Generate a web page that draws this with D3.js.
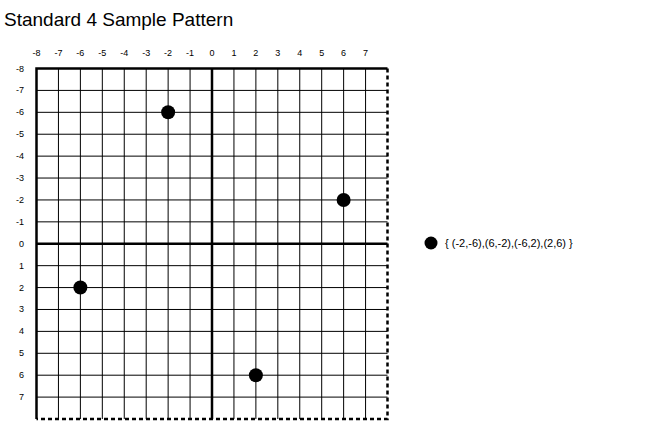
<!DOCTYPE html>
<html><head><meta charset="utf-8">
<script src="https://cdn.jsdelivr.net/npm/d3@7"></script>
<style>body{margin:0;background:#fff}text{font-family:"Liberation Sans",Arial,sans-serif}</style>
</head><body><svg id="c" width="669" height="425"></svg>
<script>
const title = "Standard 4 Sample Pattern";
const xs = [-2, 6, -6, 2];
const ys = [-6, -2, 2, 6];
const legendLabel = "{ (-2,-6),(6,-2),(-6,2),(2,6) }";
const ticks = d3.range(-8, 8);

const svg = d3.select("#c");
const x = d3.scaleLinear().domain([-8, 8]).range([36.5, 387.5]);
const y = d3.scaleLinear().domain([-8, 8]).range([68.5, 419]);

svg.append("text").attr("x", 4).attr("y", 26).attr("font-size", 19).text(title);

const g = svg.append("g");
// grid
d3.range(-7, 8).forEach(v => {
  g.append("line").attr("x1", x(v)).attr("x2", x(v)).attr("y1", y(-8)).attr("y2", y(8))
    .attr("stroke", "#000").attr("stroke-width", v === 0 ? 2.5 : 1);
  g.append("line").attr("y1", y(v)).attr("y2", y(v)).attr("x1", x(-8)).attr("x2", x(8))
    .attr("stroke", "#000").attr("stroke-width", v === 0 ? 2.5 : 1);
});
// borders
g.append("path").attr("d", `M${x(-8)},${y(8)}V${y(-8)}H${x(8)}`).attr("fill", "none")
  .attr("stroke", "#000").attr("stroke-width", 2.5);
g.append("path").attr("d", `M${x(8)},${y(-8)}V${y(8)}H${x(-8)}`).attr("fill", "none")
  .attr("stroke", "#000").attr("stroke-width", 2.5).attr("stroke-dasharray", "4,3");

// tick labels
svg.selectAll(".xt").data(ticks).join("text").attr("x", d => x(d)).attr("y", 56)
  .attr("text-anchor", "middle").attr("font-size", 9).text(d => d);
svg.selectAll(".yt").data(ticks).join("text").attr("x", 24).attr("y", d => y(d) + 3)
  .attr("text-anchor", "end").attr("font-size", 9).text(d => d);

svg.selectAll(".pt").data(xs).join("circle").attr("cx", d => x(d)).attr("cy", (d, i) => y(ys[i]))
  .attr("r", 7).attr("fill", "#000");

svg.append("circle").attr("cx", 431).attr("cy", 243).attr("r", 6.5).attr("fill", "#000");
svg.append("text").attr("x", 445).attr("y", 247).attr("font-size", 11).text(legendLabel);
</script></body></html>
